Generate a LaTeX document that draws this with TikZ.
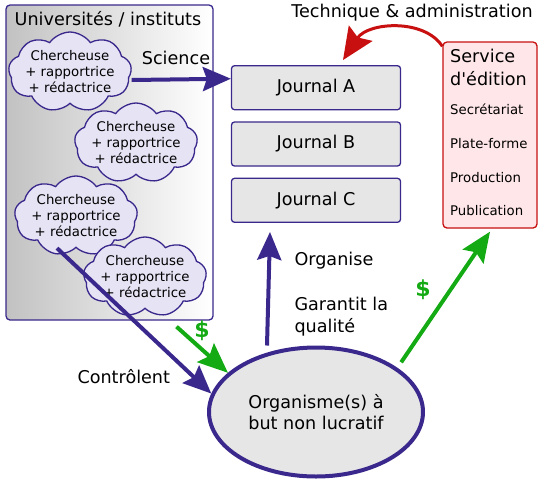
\documentclass[tikz,border=0pt]{standalone}
\usepackage{fontspec}
\setmainfont{DejaVu Sans}
\usetikzlibrary{matrix,shapes.symbols,shapes.geometric,arrows.meta}
\definecolor{indigo}{RGB}{58,40,140}
\definecolor{cloudfill}{RGB}{230,227,244}
\definecolor{jgray}{RGB}{230,230,230}
\definecolor{edgreen}{RGB}{20,170,20}
\definecolor{edred}{RGB}{200,16,16}
\definecolor{edpink}{RGB}{255,230,232}

\begin{document}
\begin{tikzpicture}[x=1pt,y=-1pt,font=\fontsize{17.6}{21}\selectfont,
cherch/.style={cloud, cloud puffs=9, cloud puff arc=110, aspect=1.7, draw=indigo, line width=1.3pt,
    fill=cloudfill, minimum width=123pt, minimum height=73pt, inner sep=-6pt,
    align=center, font=\fontsize{13.3}{16}\selectfont},
array/.style={matrix of nodes,nodes={draw=indigo, line width=1.3pt, fill=jgray,
    rounded corners=3pt, minimum width=169pt, minimum height=44pt, anchor=center},
    row sep=11pt},
bigarrow/.style={draw=indigo, line width=4pt, -{Stealth[length=28pt,width=24pt,inset=4pt]}},
greenarrow/.style={draw=edgreen, line width=4pt, -{Stealth[length=30pt,width=25pt,inset=5pt]}},
svcitem/.style={anchor=base west, inner sep=0pt, font=\fontsize{13.3}{16}\selectfont}]
\useasboundingbox (0,0) rectangle (538,480);
\node[draw=indigo, line width=1.3pt, rounded corners=4pt, left color=black!24, right color=white,
    minimum width=207pt, minimum height=315pt] (uni) at (109.5,162.5) {};
\node (unititle) at (108,19) {Universités / instituts};
\foreach \x/\y [count=\i] in {70/72,136/143,76/216,145/277}
  \node[cherch] (c\i) at (\x,\y) {Chercheuse\\+ rapportrice\\+ rédactrice};
\matrix[array] (journals) at (316,144) {
Journal A\\
Journal B\\
Journal C\\};
\node[draw=edred, line width=1.3pt, rounded corners=4pt, fill=edpink,
    minimum width=94pt, minimum height=186pt] (svc) at (490,135) {};
\node[anchor=north west, inner sep=0pt, align=left, font=\fontsize{17.6}{23}\selectfont]
    (svctitle) at (450,49) {Service\\d\textquotesingle édition};
\foreach \txt [count=\i] in {Secrétariat,Plate-forme,Production,Publication}
  \node[svcitem] (item\i) at (450,81+33.7*\i) {\txt};
\node[ellipse, draw=indigo, line width=4pt, fill=jgray, minimum width=214pt,
    minimum height=129pt, align=center] (org) at (316,412) {Organisme(s) à\\but non lucratif};
\node (science) at (176,58) {Science};
\node (techadm) at (412,13) {Technique \& administration};
\node[anchor=west] (controlent) at (74,377) {Contrôlent};
\node[anchor=west] (organise) at (291,261) {Organise};
\node[anchor=west, align=left, font=\fontsize{17.6}{22}\selectfont] (garantit) at (291,317) {Garantit la\\qualité};
\node[text=edgreen, font=\fontsize{22}{24}\selectfont\bfseries] (d1) at (202,331) {\$};
\node[text=edgreen, font=\fontsize{22}{24}\selectfont\bfseries] (d2) at (423,290) {\$};
\draw[bigarrow] ([yshift=-8pt]c1.east) -- ([yshift=9pt]journals-1-1.west);
\draw[bigarrow] ([xshift=-19pt]c3.south) -- (org.170);
\draw[bigarrow] ([xshift=-49pt]org.north) -- ([xshift=-46pt,yshift=-9pt]journals-3-1.south);
\draw[greenarrow] ([xshift=67pt,yshift=-6pt]uni.south) -- (org.156);
\draw[greenarrow] ([xshift=6pt,yshift=4pt]org.30) -- ([yshift=-3pt]svc.south);
\draw[draw=edred, line width=3pt, -{Stealth[length=32pt,width=28pt,inset=5pt]}]
    ([yshift=-5pt]svc.north west) .. controls +(-18,-28) and +(25,-38) .. ([xshift=27pt,yshift=5pt]journals-1-1.north);
\end{tikzpicture}
\end{document}
